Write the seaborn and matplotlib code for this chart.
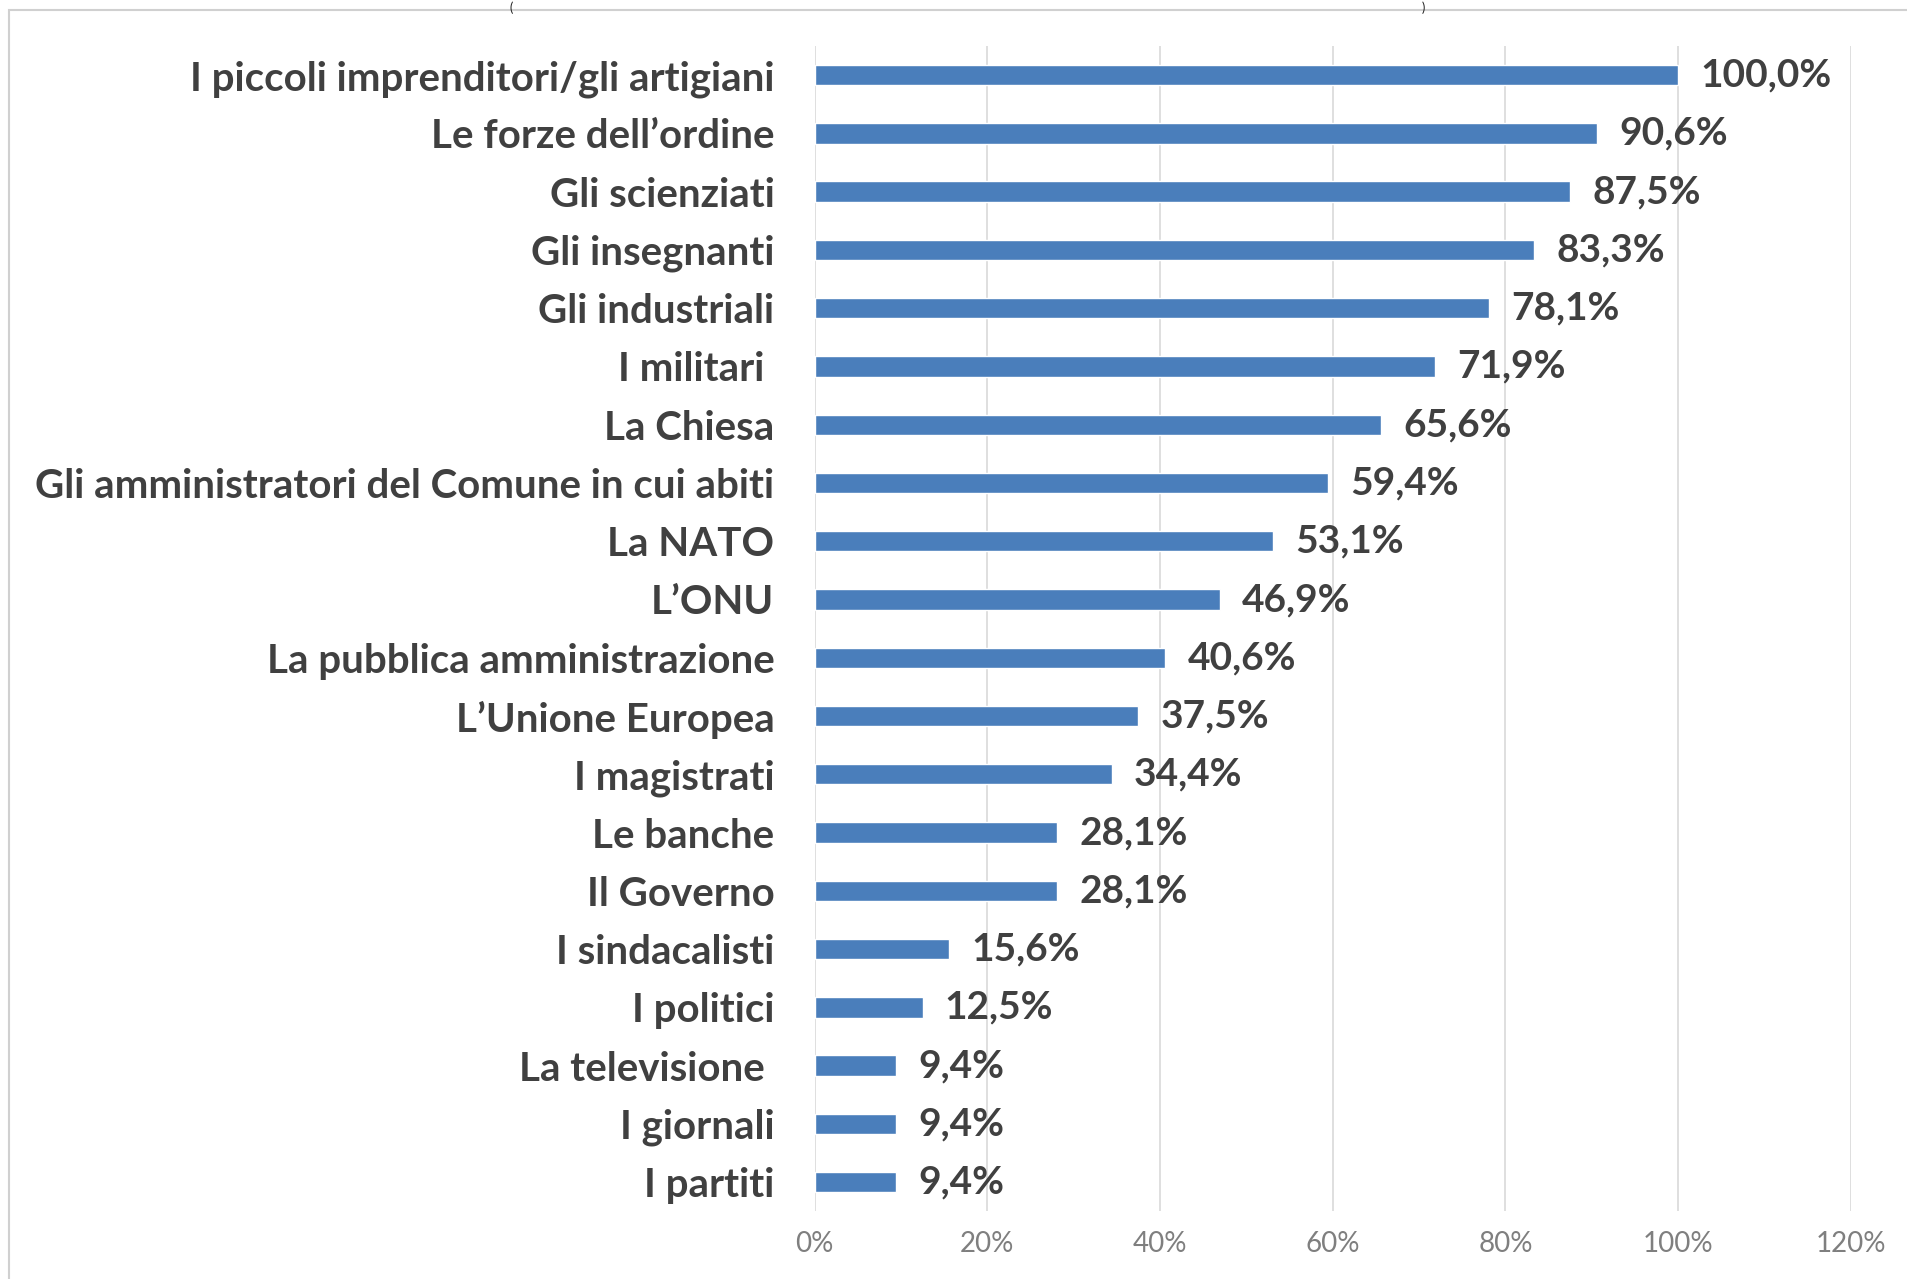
import seaborn as sns
import matplotlib.pyplot as plt
import matplotlib.patches as mpatches
import pandas as pd

# Data
categories = [
    'I piccoli imprenditori/gli artigiani', "Le forze dell\u2019ordine", 'Gli scienziati',
    'Gli insegnanti', 'Gli industriali', 'I militari ', 'La Chiesa',
    'Gli amministratori del Comune in cui abiti', 'La NATO', "L\u2019ONU",
    'La pubblica amministrazione', "L\u2019Unione Europea", 'I magistrati',
    'Le banche', 'Il Governo', 'I sindacalisti', 'I politici',
    'La televisione ', 'I giornali', 'I partiti',
]
values = [100.0, 90.6, 87.5, 83.3, 78.1, 71.9, 65.6, 59.4, 53.1, 46.9,
          40.6, 37.5, 34.4, 28.1, 28.1, 15.6, 12.5, 9.4, 9.4, 9.4]
x_ticks = [0, 20, 40, 60, 80, 100, 120]

df = pd.DataFrame({'categoria': categories, 'valore': values})

sns.set_style('white')
plt.rcParams['font.family'] = ['Lato', 'DejaVu Sans']

fig = plt.figure(figsize=(19.08, 12.79), dpi=100)
ax = fig.add_axes([0.427, 0.053, 0.543, 0.911])

sns.barplot(data=df, x='valore', y='categoria', color='#4A7EBB', width=0.35,
            saturation=1, ax=ax)

# value labels
labels = [f'{v:.1f}%'.replace('.', ',') for v in values]
ax.bar_label(ax.containers[0], labels=labels, padding=16, fontsize=28,
             fontweight='bold', color='#404040')

ax.set_xlim(0, 120)
ax.set_xticks(x_ticks)
ax.set_xticklabels([f'{t}%' for t in x_ticks], fontsize=20, color='#7f7f7f')
ax.tick_params(axis='x', length=0, pad=14)
ax.tick_params(axis='y', length=0, pad=29, labelsize=29, labelcolor='#404040')
for t in ax.get_yticklabels():
    t.set_fontweight('bold')
ax.set_xlabel('')
ax.set_ylabel('')
ax.xaxis.grid(True, color='#d9d9d9', linewidth=1.2)
ax.set_axisbelow(True)
for s in ax.spines.values():
    s.set_visible(False)

# chart frame and remnants of the cut-off title
fig.patches.append(mpatches.Rectangle((0.0045, -0.05), 1.1, 1.042, transform=fig.transFigure,
                                      fill=False, edgecolor='#d0d0d0', linewidth=1.5))
fig.text(0.268, 0.999, '(', fontsize=9, color='#222222', ha='center', va='top')
fig.text(0.746, 0.999, ')', fontsize=9, color='#222222', ha='center', va='top')

fig.savefig('out.png', dpi=100, facecolor='white')
